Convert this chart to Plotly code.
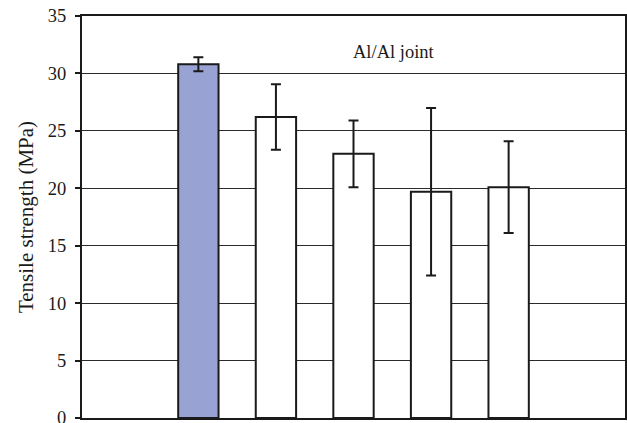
import plotly.graph_objects as go

categories = ["blank_left", "Joint 1", "Joint 2", "Joint 3", "Joint 4", "Joint 5", "blank_right"]
strength = [None, 30.8, 26.2, 23.0, 19.7, 20.1, None]
error = [None, 0.6, 2.85, 2.9, 7.3, 4.0, None]
fill_colors = ["white", "#99A3D3", "white", "white", "white", "white", "white"]
y_ticks = [0, 5, 10, 15, 20, 25, 30, 35]
annotation_text = "Al/Al joint"
y_title = "Tensile strength (MPa)"

fig = go.Figure()
fig.add_trace(go.Bar(
    x=categories,
    y=strength,
    width=0.52,
    marker=dict(color=fill_colors, line=dict(color="#1a1a1a", width=2)),
    error_y=dict(type="data", array=error, visible=True, color="#1a1a1a",
                 thickness=2, width=5),
    showlegend=False,
))

fig.add_annotation(
    x=3.52, y=31.9, xref="x", yref="y", text=annotation_text, showarrow=False,
    font=dict(family="Liberation Serif", size=18.5, color="#1a1a1a"),
)

fig.update_layout(
    width=627, height=423,
    margin=dict(l=82, r=2, t=16, b=5),
    paper_bgcolor="white", plot_bgcolor="white",
    bargap=0.48,
    font=dict(family="Liberation Serif", size=18, color="#1a1a1a"),
)
fig.update_xaxes(
    categoryorder="array", categoryarray=categories,
    range=[-0.5, 6.5], showticklabels=False, ticks="",
    showgrid=False, showline=True, linecolor="#1a1a1a", linewidth=2, mirror=True,
    zeroline=False,
)
fig.update_yaxes(
    range=[0, 35], tickvals=y_ticks, ticks="outside", ticklen=5, tickcolor="#1a1a1a",
    tickwidth=1.5, showgrid=True, gridcolor="#2a2a2a", gridwidth=1,
    showline=True, linecolor="#1a1a1a", linewidth=2, mirror=True, zeroline=False,
    automargin=False, ticklabeloverflow="allow", ticklabelstandoff=5,
    title=dict(text=y_title, font=dict(family="Liberation Serif", size=21), standoff=8),
    tickfont=dict(family="Liberation Serif", size=18.5),
)

fig.write_html("out.html", config={"displayModeBar": False},
               post_script="document.body.style.margin='0';")
